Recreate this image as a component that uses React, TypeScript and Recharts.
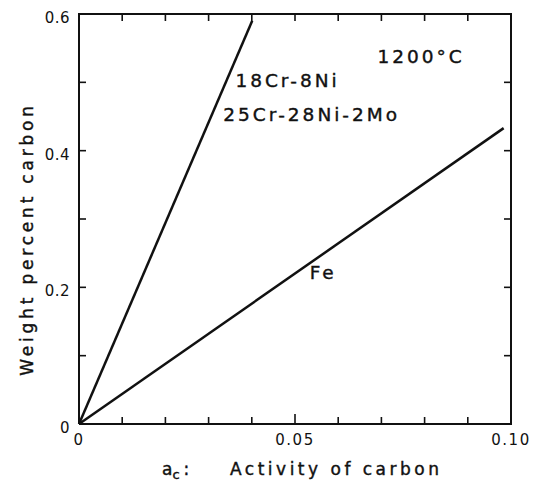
import { LineChart, Line, XAxis, YAxis, ReferenceDot } from 'recharts'

// axis ticks (every 0.01 / 0.1, labels only on some)
const X_TICKS = [0, 0.01, 0.02, 0.03, 0.04, 0.05, 0.06, 0.07, 0.08, 0.09, 0.1]
const X_TICK_TEXT: Record<string, string> = { '0': '0', '0.05': '0.05', '0.1': '0.10' }
const Y_TICKS = [0, 0.1, 0.2, 0.3, 0.4, 0.5, 0.6]
const Y_TICK_TEXT: Record<string, string> = { '0': '0', '0.2': '0.2', '0.4': '0.4', '0.6': '0.6' }

// series: activity of carbon -> weight percent carbon
const ALLOY_AC = [0, 0.0401]
const ALLOY_WT = [0, 0.59]
const FE_AC = [0, 0.0983]
const FE_WT = [0, 0.433]

// annotations (left/baseline anchored)
const NOTE_TEXT = ['18Cr-8Ni', '25Cr-28Ni-2Mo', 'Fe', '1200°C']
const NOTE_AC = [0.0362, 0.0334, 0.0534, 0.0691]
const NOTE_WT = [0.493, 0.443, 0.2127, 0.528]

// top and right edges of the frame
const X_MAX = 0.1
const Y_MAX = 0.6

const alloyData = ALLOY_AC.map((x, i) => ({ x, y: ALLOY_WT[i] }))
const feData = FE_AC.map((x, i) => ({ x, y: FE_WT[i] }))
const frameData = [{ x: 0, y: Y_MAX }, { x: X_MAX, y: Y_MAX }, { x: X_MAX, y: 0 }]
const topTickData = X_TICKS.map((x) => ({ x, y: Y_MAX }))
const rightTickData = Y_TICKS.map((y) => ({ x: X_MAX, y }))

const FONT = '"DejaVu Sans", sans-serif'
const INK = '#111'

function BottomTick({ x, y, payload }: any) {
  const major = payload.value === 0.05
  const txt = X_TICK_TEXT[String(payload.value)]
  return (
    <g>
      <line x1={x} x2={x} y1={y} y2={y - (major ? 10 : 7)} stroke={INK} strokeWidth={1.6} />
      {txt && (
        <text x={x} y={y + 21} textAnchor="middle" fontSize={15} fontFamily={FONT} fill={INK}
          style={{ letterSpacing: 1.5 }}>
          {txt}
        </text>
      )}
    </g>
  )
}

function LeftTick({ x, y, payload }: any) {
  const txt = Y_TICK_TEXT[String(payload.value)]
  return (
    <g>
      <line x1={x} x2={x + 7} y1={y} y2={y} stroke={INK} strokeWidth={1.6} />
      {txt && (
        <text x={x - 9} y={y + 9} textAnchor="end" fontSize={15} fontFamily={FONT} fill={INK}
          style={{ letterSpacing: 0.5 }}>
          {txt}
        </text>
      )}
    </g>
  )
}

// inner tick marks drawn as dots of invisible series along the top / right edges
function TopTickDot({ cx, cy, index }: any) {
  return <line key={`t${index}`} x1={cx} x2={cx} y1={cy} y2={cy + 7} stroke={INK} strokeWidth={1.6} />
}

function RightTickDot({ cx, cy, index }: any) {
  return <line key={`r${index}`} x1={cx} x2={cx - 7} y1={cy} y2={cy} stroke={INK} strokeWidth={1.6} />
}

function YTitle({ viewBox }: any) {
  const cx = viewBox.x + 33
  const cy = viewBox.y + viewBox.height / 2 + 20
  return (
    <text x={cx} y={cy} transform={`rotate(-90 ${cx} ${cy})`} textAnchor="middle"
      fontSize={17} fontFamily={FONT} fill={INK} stroke={INK} strokeWidth={0.4}
      style={{ letterSpacing: 3.8 }}>
      Weight percent carbon
    </text>
  )
}

function XTitle({ viewBox }: any) {
  const y = viewBox.y + 51
  return (
    <g fontFamily={FONT} fill={INK} stroke={INK} strokeWidth={0.4} fontSize={17}>
      <text x={viewBox.x + 83} y={y}>
        a<tspan fontSize={13} dy={4}>c</tspan>
        <tspan dy={-4} dx={4}>:</tspan>
      </text>
      <text x={viewBox.x + 151} y={y} style={{ letterSpacing: 3.5 }}>
        Activity of carbon
      </text>
    </g>
  )
}

function Note(text: string) {
  return ({ cx, cy }: any) => (
    <text x={cx} y={cy} fontSize={18.5} fontFamily={FONT} fill={INK} stroke={INK} strokeWidth={0.4}
      style={{ letterSpacing: 3 }}>
      {text}
    </text>
  )
}

export default function App() {
  return (
    <div style={{ position: 'absolute', left: 0, top: 0, width: 533, height: 486, background: '#fff' }}>
      <LineChart width={533} height={486} margin={{ top: 14, right: 22, bottom: 0, left: 0 }}>
        <XAxis
          type="number" dataKey="x" domain={[0, X_MAX]} ticks={X_TICKS} interval={0}
          height={62} tickSize={0} tickMargin={0} tickLine={false}
          axisLine={{ stroke: INK, strokeWidth: 2 }}
          tick={<BottomTick />}
          label={<XTitle />}
        />
        <YAxis
          type="number" dataKey="y" domain={[0, Y_MAX]} ticks={Y_TICKS} interval={0}
          width={79} tickSize={0} tickMargin={0} tickLine={false}
          axisLine={{ stroke: INK, strokeWidth: 2 }}
          tick={<LeftTick />}
          label={<YTitle />}
        />
        <Line data={frameData} dataKey="y" stroke={INK} strokeWidth={2} dot={false}
          strokeLinecap="square" isAnimationActive={false} />
        <Line data={topTickData} dataKey="y" stroke="none" dot={<TopTickDot />}
          isAnimationActive={false} />
        <Line data={rightTickData} dataKey="y" stroke="none" dot={<RightTickDot />}
          isAnimationActive={false} />
        <Line data={alloyData} dataKey="y" stroke={INK} strokeWidth={2.5} dot={false}
          isAnimationActive={false} />
        <Line data={feData} dataKey="y" stroke={INK} strokeWidth={2.5} dot={false}
          isAnimationActive={false} />
        {NOTE_TEXT.map((t, i) => (
          <ReferenceDot key={t} x={NOTE_AC[i]} y={NOTE_WT[i]} r={0} shape={Note(t)} />
        ))}
      </LineChart>
    </div>
  )
}
